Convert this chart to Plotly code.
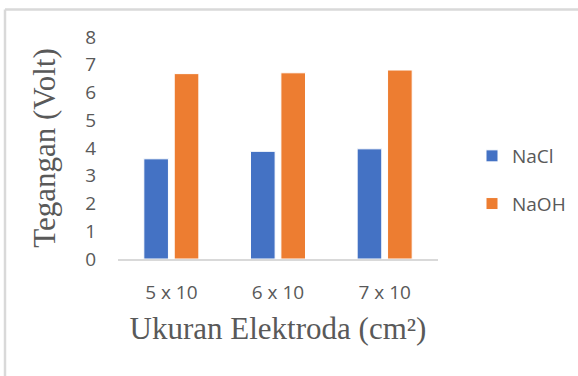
import plotly.graph_objects as go

categories = ["5 x 10", "6 x 10", "7 x 10"]
nacl = [3.61, 3.88, 3.97]
naoh = [6.68, 6.71, 6.81]
y_ticks = [0, 1, 2, 3, 4, 5, 6, 7, 8]

W, H = 578, 376
ml, mr, mt, mb = 118, 140, 37, 117
pw, ph = W - ml - mr, H - mt - mb

fig = go.Figure()
fig.add_trace(go.Bar(name="NaCl", x=categories, y=nacl, legendgroup="a",
                     marker=dict(color="#4472C4", line=dict(color="white", width=1))))
fig.add_trace(go.Bar(name="NaOH", x=categories, y=naoh, legendgroup="b",
                     marker=dict(color="#ED7D31", line=dict(color="white", width=1))))

gray = "#595959"
fig.update_layout(
    width=W, height=H,
    margin=dict(l=ml, r=mr, t=mt, b=mb, autoexpand=False),
    paper_bgcolor="white", plot_bgcolor="white",
    barmode="group", bargap=0.43, bargroupgap=0.19,
    font=dict(family="Open Sans", color=gray, size=19),
    showlegend=True,
    legend=dict(x=(472 - ml) / pw, xanchor="left", y=(H - mb - 137) / ph, yanchor="top",
                traceorder="grouped", tracegroupgap=20,
                font=dict(size=19, color=gray), bgcolor="rgba(0,0,0,0)"),
    xaxis=dict(showline=True, linecolor="#d9d9d9", linewidth=2, showgrid=False,
               ticks="", ticklabelstandoff=15,
               tickfont=dict(size=19, color=gray),
               title=dict(text="Ukuran Elektroda (cm²)", standoff=14,
                          font=dict(family="Liberation Serif", size=31, color=gray))),
    yaxis=dict(range=[0, 8], tickvals=y_ticks, showgrid=False, zeroline=False,
               showline=False, ticks="", ticklabelstandoff=21,
               tickfont=dict(size=19, color=gray),
               title=dict(text="Tegangan (Volt)", standoff=20,
                          font=dict(family="Liberation Serif", size=31, color=gray))),
    shapes=[
        dict(type="line", xref="paper", yref="paper",
             x0=(5 - ml) / pw, x1=(W - ml) / pw, y0=(H - mb - 9.5) / ph, y1=(H - mb - 9.5) / ph,
             line=dict(color="#d9d9d9", width=2.5)),
        dict(type="line", xref="paper", yref="paper",
             x0=(5 - ml) / pw, x1=(5 - ml) / pw, y0=(H - mb - 9.5) / ph, y1=(H - mb - H) / ph,
             line=dict(color="#d9d9d9", width=2.5)),
    ],
)

fig.write_html("out.html", config={"displayModeBar": False},
               post_script="document.body.style.margin='0';")
